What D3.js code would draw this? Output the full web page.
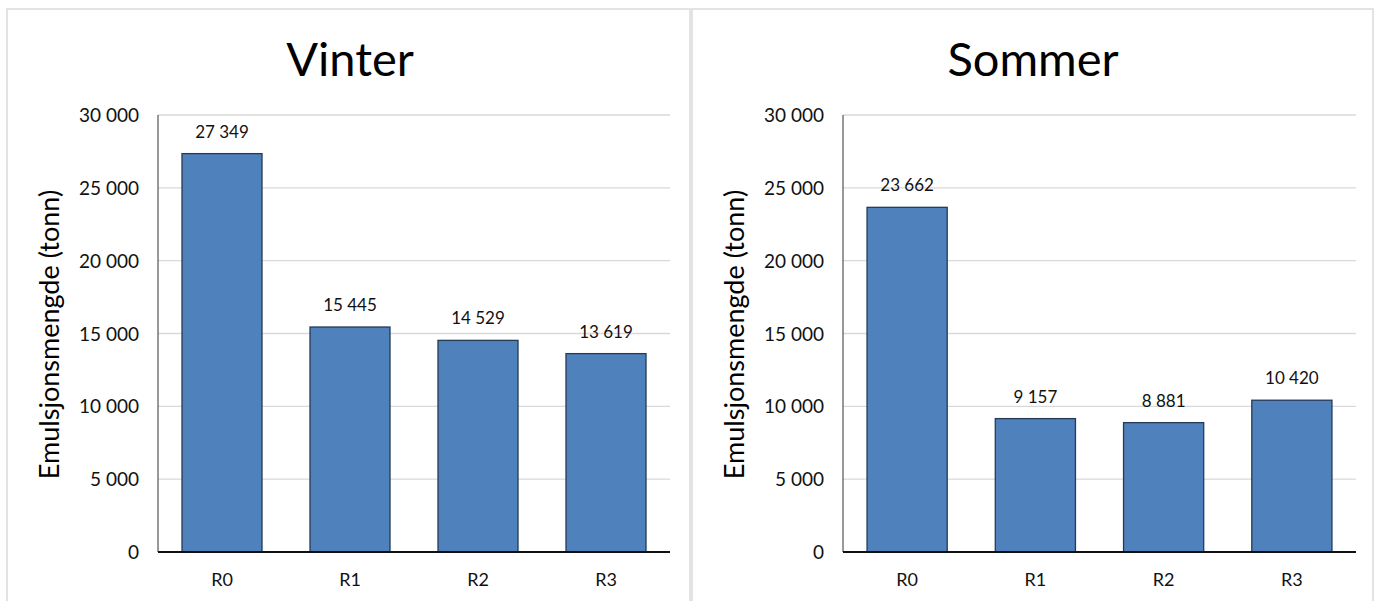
<!DOCTYPE html>
<html>
<head>
<meta charset="utf-8">
<script src="https://cdn.jsdelivr.net/npm/d3@7"></script>
<style>
  html, body { margin: 0; padding: 0; background: #fff; }
  svg { display: block; font-family: Lato, "Open Sans", sans-serif; }
</style>
</head>
<body>
<svg id="chart" width="1376" height="601"></svg>
<script>
// Emulsion quantity per scenario, winter and summer
const categories = ["R0", "R1", "R2", "R3"];
const vinterValues = [27349, 15445, 14529, 13619];
const sommerValues = [23662, 9157, 8881, 10420];
const panelTitles = ["Vinter", "Sommer"];
const yTicks = [0, 5000, 10000, 15000, 20000, 25000, 30000];
const yLabel = "Emulsjonsmengde (tonn)";

const svg = d3.select("#chart");

// thousands separated by a space, Norwegian style
const fmt = v => d3.format(",")(v).replace(/,/g, " ");

const panels = [
  { title: panelTitles[0], values: vinterValues, box: [7, 9, 690, 610], plot: [158, 670], titleX: 350, axisLabelX: 59, tickX: 139 },
  { title: panelTitles[1], values: sommerValues, box: [692, 9, 1373, 610], plot: [843, 1356], titleX: 1033, axisLabelX: 744, tickX: 824 }
];

const yTop = 115, yBottom = 552;
const y = d3.scaleLinear().domain([0, 30000]).range([yBottom, yTop]);

panels.forEach(p => {
  const g = svg.append("g");

  // panel frame
  g.append("rect")
    .attr("x", p.box[0]).attr("y", p.box[1])
    .attr("width", p.box[2] - p.box[0]).attr("height", p.box[3] - p.box[1])
    .attr("fill", "#fff").attr("stroke", "#e3e3e3").attr("stroke-width", 2);

  const x = d3.scaleBand().domain(categories).range(p.plot).paddingInner(0.375).paddingOuter(0.1875);

  // gridlines
  g.append("g").selectAll("line").data(yTicks.filter(t => t > 0)).join("line")
    .attr("x1", p.plot[0]).attr("x2", p.plot[1])
    .attr("y1", d => y(d)).attr("y2", d => y(d))
    .attr("stroke", "#d9d9d9").attr("stroke-width", 1.3);

  // y tick labels
  const yAxis = d3.axisLeft(y).tickValues(yTicks).tickFormat(fmt).tickSize(0).tickPadding(0);
  const ya = g.append("g").attr("transform", `translate(${p.tickX},0)`).call(yAxis);
  ya.select(".domain").remove();
  ya.selectAll("text").attr("font-size", 19).attr("fill", "#111").attr("dy", "0.35em")
    .attr("font-family", "Lato, sans-serif");

  // y axis line
  g.append("line")
    .attr("x1", p.plot[0]).attr("x2", p.plot[0])
    .attr("y1", yTop).attr("y2", yBottom)
    .attr("stroke", "#333").attr("stroke-width", 1);

  // bars
  g.append("g").selectAll("rect").data(categories).join("rect")
    .attr("x", d => x(d))
    .attr("width", x.bandwidth())
    .attr("y", (d, i) => y(p.values[i]))
    .attr("height", (d, i) => yBottom - y(p.values[i]))
    .attr("fill", "#4f81bd").attr("stroke", "#253a55").attr("stroke-width", 1.3);

  // value labels
  g.append("g").selectAll("text").data(categories).join("text")
    .attr("x", d => x(d) + x.bandwidth() / 2)
    .attr("y", (d, i) => y(p.values[i]) - 16)
    .attr("text-anchor", "middle")
    .attr("font-size", 17).attr("fill", "#111")
    .text((d, i) => fmt(p.values[i]));

  // baseline
  g.append("line")
    .attr("x1", p.plot[0]).attr("x2", p.plot[1])
    .attr("y1", yBottom).attr("y2", yBottom)
    .attr("stroke", "#111").attr("stroke-width", 2);

  // x category labels
  const xa = g.append("g").attr("transform", `translate(0,${yBottom})`)
    .call(d3.axisBottom(x).tickSize(0).tickPadding(21));
  xa.select(".domain").remove();
  xa.selectAll("text").attr("font-size", 18).attr("fill", "#111")
    .attr("font-family", "Lato, sans-serif");

  // title
  g.append("text")
    .attr("x", p.titleX).attr("y", 76)
    .attr("text-anchor", "middle")
    .attr("font-size", 47).attr("fill", "#000")
    .text(p.title);

  // y axis title
  g.append("text")
    .attr("transform", `translate(${p.axisLabelX},${(yTop + yBottom) / 2 + 1}) rotate(-90)`)
    .attr("text-anchor", "middle")
    .attr("font-size", 27).attr("fill", "#000")
    .text(yLabel);
});
</script>
</body>
</html>
